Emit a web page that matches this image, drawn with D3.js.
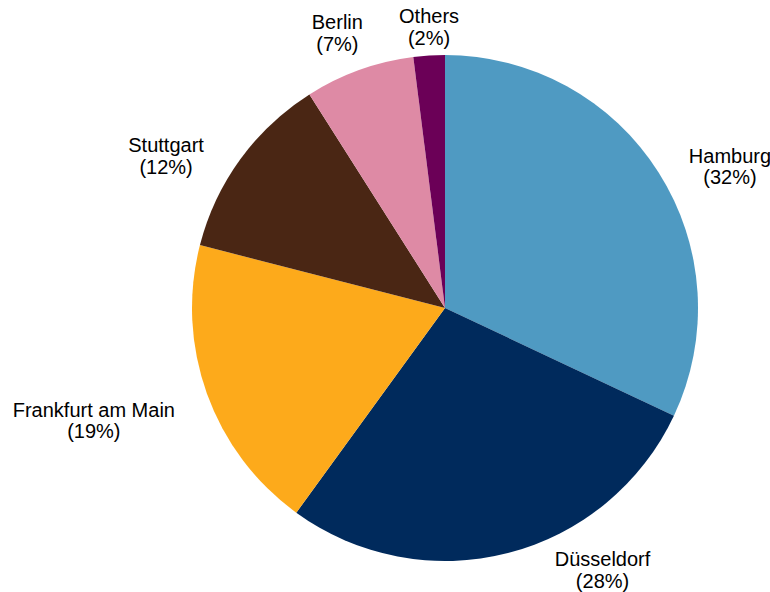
<!DOCTYPE html>
<html>
<head>
<meta charset="utf-8">
<script src="https://cdn.jsdelivr.net/npm/d3@7"></script>
<style>
  body { margin: 0; background: #fff; }
  text { font-family: Arial, "Liberation Sans", sans-serif; }
</style>
</head>
<body>
<svg id="chart" width="770" height="592"></svg>
<script>
// chart data
var cities = ["Hamburg", "Düsseldorf", "Frankfurt am Main", "Stuttgart", "Berlin", "Others"];
var shares = [32, 28, 19, 12, 7, 2];
var colors = ["#4f9ac2", "#002a5c", "#fdaa1b", "#4a2614", "#de8aa5", "#6b0057"];

// where each label sits: angle (deg, clockwise from top) and distance as a factor of the radius
var labelAngle = [63.0, 148.6, 252.8, 299.2, 338.9, 356.8];
var labelDist = [1.264, 1.195, 1.453, 1.263, 1.182, 1.128];

var width = 770, height = 592;
var cx = 445, cy = 308, r = 253;

var svg = d3.select('#chart');
var g = svg.append('g').attr('transform', `translate(${cx}, ${cy})`);

var pie = d3.pie().sort(null).value(d => d.value);
var arc = d3.arc().innerRadius(0).outerRadius(r);

var data = cities.map((c, i) => ({ name: c, value: shares[i], color: colors[i] }));

g.selectAll('path')
  .data(pie(data))
  .enter()
  .append('path')
  .attr('d', arc)
  .attr('fill', d => d.data.color);

var labels = g.selectAll('text.label')
  .data(data)
  .enter()
  .append('text')
  .attr('class', 'label')
  .attr('text-anchor', 'middle')
  .attr('font-size', '20px')
  .attr('fill', '#000')
  .attr('transform', (d, i) => {
      var p = d3.pointRadial(labelAngle[i] * Math.PI / 180, labelDist[i] * r);
      return `translate(${p[0]}, ${p[1]})`;
  });

labels.append('tspan')
  .attr('x', 0)
  .attr('y', 0)
  .text(d => d.name);

labels.append('tspan')
  .attr('x', 0)
  .attr('y', 21.5)
  .text(d => '(' + d.value + '%)');
</script>
</body>
</html>
